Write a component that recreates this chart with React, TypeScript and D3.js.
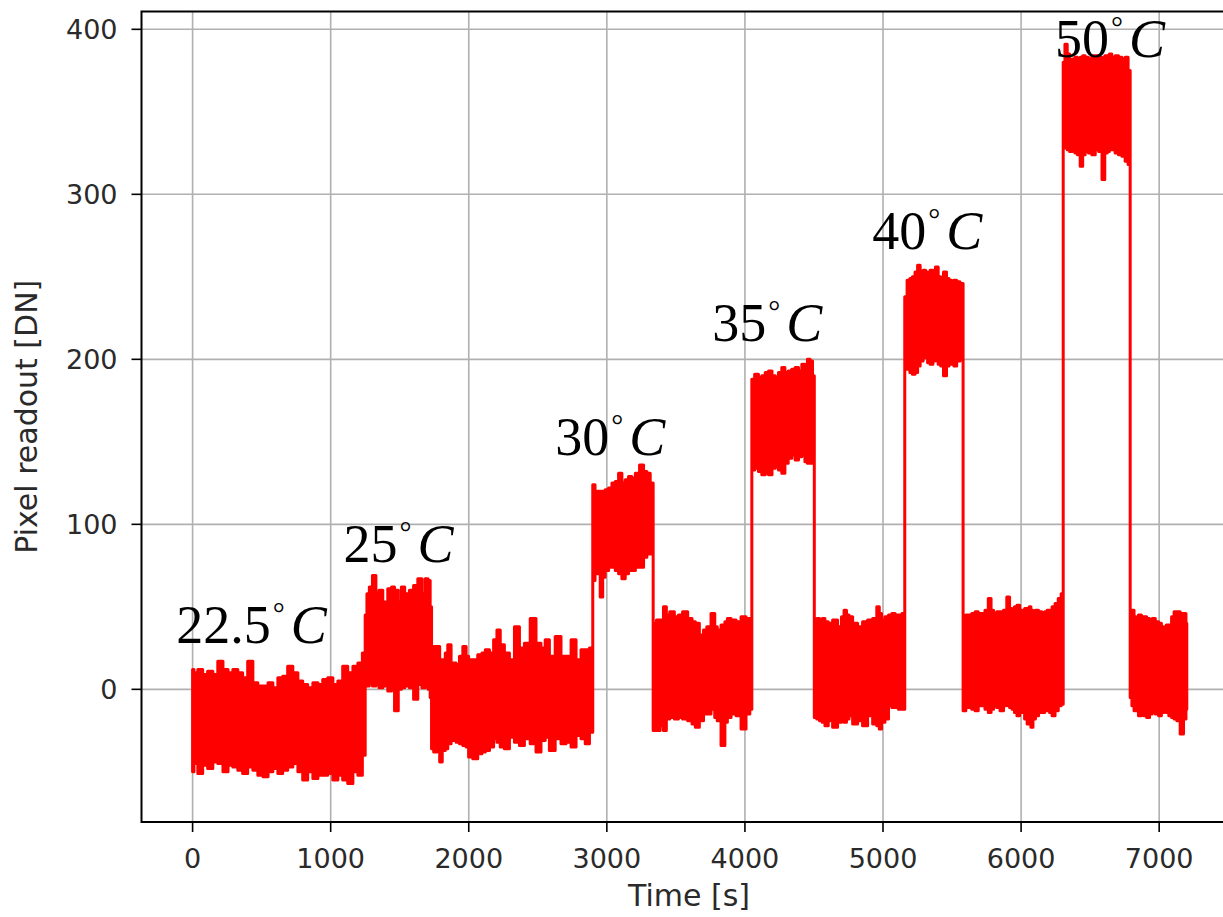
import * as d3 from "d3";

const WIDTH = 1223;
const HEIGHT = 917;

// envelope of the pixel trace: [time s, upper DN, lower DN]
const hold225 = [
  [0, 12, -50], [20, 10, -45], [56, 12, -51], [90, 9, -46], [128, 11, -48], [165, 9, -44],
  [200, 17, -45], [240, 12, -50], [273, 10, -46], [310, 12, -47], [345, 10, -49], [380, 7, -51],
  [418, 17, -47], [455, 4, -49], [490, 2, -52], [530, 2, -53], [563, 4, -50], [600, 1, -48],
  [635, 7, -51], [670, 8, -49], [707, 14, -47], [745, 10, -45], [780, 5, -50], [815, 3, -55],
  [852, 1, -50], [890, 4, -54], [925, 3, -52], [960, 6, -52], [997, 7, -51], [1035, 3, -55],
  [1069, 5, -52], [1105, 14, -55], [1142, 10, -57], [1180, 14, -50], [1214, 16, -52], [1245, 22, -40],
];
const hold25 = [
  [1255, 45, 3], [1270, 58, 2], [1290, 62, 4], [1315, 69, 2], [1340, 58, 3], [1360, 60, 1],
  [1395, 53, 2], [1432, 61, -1], [1450, 62, 1], [1475, 60, -13], [1504, 53, 0], [1520, 62, 1],
  [1552, 58, 2], [1588, 60, 1], [1613, 63, -6], [1649, 67, 3], [1673, 58, 1], [1695, 67, 2],
  [1715, 66, 0], [1726, 50, -5],
];
const base1 = [
  [1735, 20, -36], [1757, 26, -38], [1781, 26, -35], [1798, 18, -44], [1818, 18, -37], [1842, 22, -36],
  [1854, 27, -33], [1890, 16, -31], [1927, 15, -32], [1939, 20, -33], [1975, 26, -34], [1987, 20, -35],
  [2011, 18, -41], [2047, 18, -42], [2083, 21, -39], [2108, 22, -38], [2132, 24, -37], [2168, 22, -35],
  [2192, 30, -30], [2216, 36, -32], [2240, 27, -35], [2276, 22, -36], [2313, 18, -29], [2349, 38, -32],
  [2385, 25, -34], [2421, 28, -30], [2469, 43, -33], [2505, 28, -38], [2541, 25, -31], [2566, 30, -29],
  [2602, 20, -37], [2650, 32, -30], [2686, 20, -33], [2723, 20, -32], [2759, 30, -35], [2795, 18, -28],
  [2831, 24, -30], [2856, 24, -33], [2892, 25, -26],
];
const hold30 = [
  [2904, 124, 66], [2925, 120, 70], [2940, 120, 70], [2964, 120, 56], [2976, 120, 68], [3000, 121, 72],
  [3025, 122, 74], [3049, 125, 74], [3073, 126, 72], [3097, 131, 70], [3121, 125, 67], [3145, 127, 70],
  [3169, 129, 72], [3193, 128, 72], [3220, 131, 74], [3254, 136, 74], [3278, 132, 80], [3302, 131, 82],
  [3326, 125, 82],
];
const base2 = [
  [3345, 40, -25], [3374, 42, -25], [3398, 42, -22], [3422, 50, -25], [3440, 45, -18], [3471, 47, -17],
  [3507, 44, -18], [3530, 45, -17], [3567, 47, -18], [3604, 43, -19], [3630, 41, -21], [3652, 40, -23],
  [3688, 33, -19], [3712, 36, -15], [3736, 38, -15], [3773, 46, -12], [3790, 38, -17], [3809, 36, -19],
  [3845, 39, -34], [3865, 41, -20], [3881, 43, -17], [3918, 42, -15], [3954, 41, -16], [3990, 44, -24],
  [4026, 43, -15], [4045, 41, -12],
];
const hold35 = [
  [4055, 188, 133], [4086, 191, 134], [4110, 189, 132], [4134, 190, 130], [4160, 192, 131], [4182, 193, 130],
  [4210, 190, 134], [4231, 189, 135], [4255, 192, 133], [4279, 195, 131], [4300, 192, 137], [4327, 193, 140],
  [4351, 194, 142], [4376, 195, 139], [4400, 193, 141], [4424, 197, 142], [4445, 196, 138], [4460, 200, 137],
  [4484, 199, 137], [4495, 190, 138],
];
const base3 = [
  [4510, 42, -17], [4530, 43, -18], [4550, 42, -19], [4569, 43, -20], [4590, 41, -22], [4617, 40, -19],
  [4653, 42, -23], [4689, 38, -20], [4710, 44, -18], [4726, 48, -20], [4745, 45, -18], [4762, 44, -16],
  [4798, 40, -21], [4834, 38, -19], [4870, 41, -22], [4907, 42, -16], [4943, 43, -21], [4967, 50, -22],
  [4979, 46, -24], [5000, 42, -20], [5028, 44, -18], [5052, 45, -10], [5076, 46, -11], [5100, 45, -11],
  [5124, 45, -12], [5150, 46, -12],
];
const hold40 = [
  [5165, 238, 196], [5184, 248, 194], [5205, 249, 192], [5220, 250, 191], [5244, 253, 192], [5257, 257, 196],
  [5281, 252, 199], [5300, 254, 201], [5317, 253, 201], [5329, 252, 198], [5353, 254, 197], [5370, 253, 199],
  [5389, 256, 200], [5410, 250, 197], [5426, 248, 196], [5450, 253, 190], [5470, 249, 196], [5486, 248, 198],
  [5505, 247, 197], [5522, 248, 196], [5545, 247, 199], [5570, 246, 200],
];
const base4 = [
  [5590, 44, -13], [5610, 45, -11], [5630, 45, -11], [5655, 46, -12], [5679, 47, -13], [5700, 46, -10],
  [5727, 46, -10], [5750, 48, -12], [5775, 55, -14], [5790, 48, -12], [5811, 46, -10], [5835, 47, -11],
  [5860, 47, -13], [5885, 48, -10], [5908, 56, -9], [5925, 49, -11], [5944, 47, -12], [5960, 50, -14],
  [5980, 51, -16], [6000, 48, -14], [6016, 47, -14], [6035, 49, -18], [6053, 49, -21], [6065, 50, -20],
  [6077, 48, -23], [6095, 47, -18], [6113, 48, -16], [6140, 47, -14], [6161, 46, -14], [6180, 47, -13],
  [6197, 48, -13], [6215, 48, -14], [6234, 50, -16], [6258, 52, -13], [6280, 55, -10], [6300, 58, -9],
];
const hold50 = [
  [6310, 380, 328], [6325, 391, 329], [6343, 385, 327], [6360, 379, 326], [6380, 382, 327], [6400, 383, 325],
  [6416, 380, 324], [6440, 383, 317], [6452, 384, 324], [6476, 383, 326], [6500, 382, 325], [6525, 384, 324],
  [6549, 384, 327], [6575, 383, 326], [6597, 382, 309], [6615, 384, 325], [6633, 384, 326], [6645, 385, 327],
  [6669, 383, 327], [6693, 384, 325], [6718, 383, 324], [6742, 382, 323], [6765, 383, 320], [6785, 375, 318],
];
const base5 = [
  [6795, 45, -5], [6810, 48, -10], [6826, 44, -13], [6838, 43, -12], [6862, 45, -16], [6880, 44, -15],
  [6899, 44, -16], [6920, 43, -17], [6940, 42, -15], [6959, 43, -14], [6985, 41, -15], [7007, 40, -16],
  [7025, 38, -14], [7043, 37, -10], [7060, 39, -14], [7080, 39, -16], [7100, 44, -17], [7116, 47, -18],
  [7140, 47, -19], [7164, 46, -27], [7188, 46, -18], [7200, 40, -12],
];

const segments = [hold225, hold25, base1, hold30, base2, hold35, base3, hold40, base4, hold50, base5];

const xTicks = [0, 1000, 2000, 3000, 4000, 5000, 6000, 7000];
const yTicks = [0, 100, 200, 300, 400];

// temperature labels: text, anchor time, anchor level
const tempLabels = ["22.5", "25", "30", "35", "40", "50"];
const labelTimes = [-118, 1092, 2626, 3763, 4922, 6246];
const labelLevels = [28, 77, 142, 211, 267, 383];

export default function App() {
  const left = 141.5, right = 1236.5, top = 11.5, bottom = 822;
  const x = d3.scaleLinear().domain([-370, 7560]).range([left, right]);
  const y = d3.scaleLinear().domain([-80.4, 410.8]).range([bottom, top]);

  const trace = segments.flat();
  const band = d3.area<number[]>()
    .x(d => x(d[0]))
    .y0(d => y(d[2]))
    .y1(d => y(d[1]))
    .curve(d3.curveStep);

  const tickFont = { fontFamily: "DejaVu Sans", fontSize: 27, fill: "#2a2a2a" };

  return (
    <svg width={WIDTH} height={HEIGHT}
      style={{ position: "absolute", left: 0, top: 0, background: "#fff" }}>
      <defs>
        <clipPath id="plot">
          <rect x={left} y={top} width={right - left} height={bottom - top} />
        </clipPath>
      </defs>

      {/* grid */}
      <g stroke="#b0b0b0" strokeWidth={1.6}>
        {xTicks.map(t => <line key={t} x1={x(t)} x2={x(t)} y1={top} y2={bottom} />)}
        {yTicks.map(t => <line key={t} x1={left} x2={right} y1={y(t)} y2={y(t)} />)}
      </g>

      <g clipPath="url(#plot)">
        <path d={band(trace) ?? ""} fill="#ff0000" stroke="#ff0000" strokeWidth={3} strokeLinejoin="round" />
      </g>

      {/* frame */}
      <rect x={left} y={top} width={right - left} height={bottom - top} fill="none" stroke="#000" strokeWidth={2} />

      {/* ticks */}
      <g stroke="#000" strokeWidth={1.6}>
        {xTicks.map(t => <line key={t} x1={x(t)} x2={x(t)} y1={bottom} y2={bottom + 10} />)}
        {yTicks.map(t => <line key={t} x1={left - 10} x2={left} y1={y(t)} y2={y(t)} />)}
      </g>
      {xTicks.map(t => (
        <text key={t} x={x(t)} y={bottom + 46} textAnchor="middle" {...tickFont}>{t}</text>
      ))}
      {yTicks.map(t => (
        <text key={t} x={left - 24} y={y(t) + 10} textAnchor="end" {...tickFont}>{t}</text>
      ))}

      <text x={(left + right) / 2} y={906} textAnchor="middle" fontFamily="DejaVu Sans" fontSize={30} fill="#2a2a2a">
        Time [s]
      </text>
      <text transform={`translate(37, ${(top + bottom) / 2}) rotate(-90)`} textAnchor="middle"
        fontFamily="DejaVu Sans" fontSize={30} fill="#2a2a2a">
        Pixel readout [DN]
      </text>

      {/* temperature annotations */}
      {tempLabels.map((s, i) => (
        <text key={s} x={x(labelTimes[i])} y={y(labelLevels[i])}
          fontFamily="Liberation Serif" fontSize={54} fill="#000">
          {s}
          <tspan fontSize={30} dx={2} dy={-20}>°</tspan>
          <tspan fontStyle="italic" dx={6} dy={20}>C</tspan>
        </text>
      ))}
    </svg>
  );
}
